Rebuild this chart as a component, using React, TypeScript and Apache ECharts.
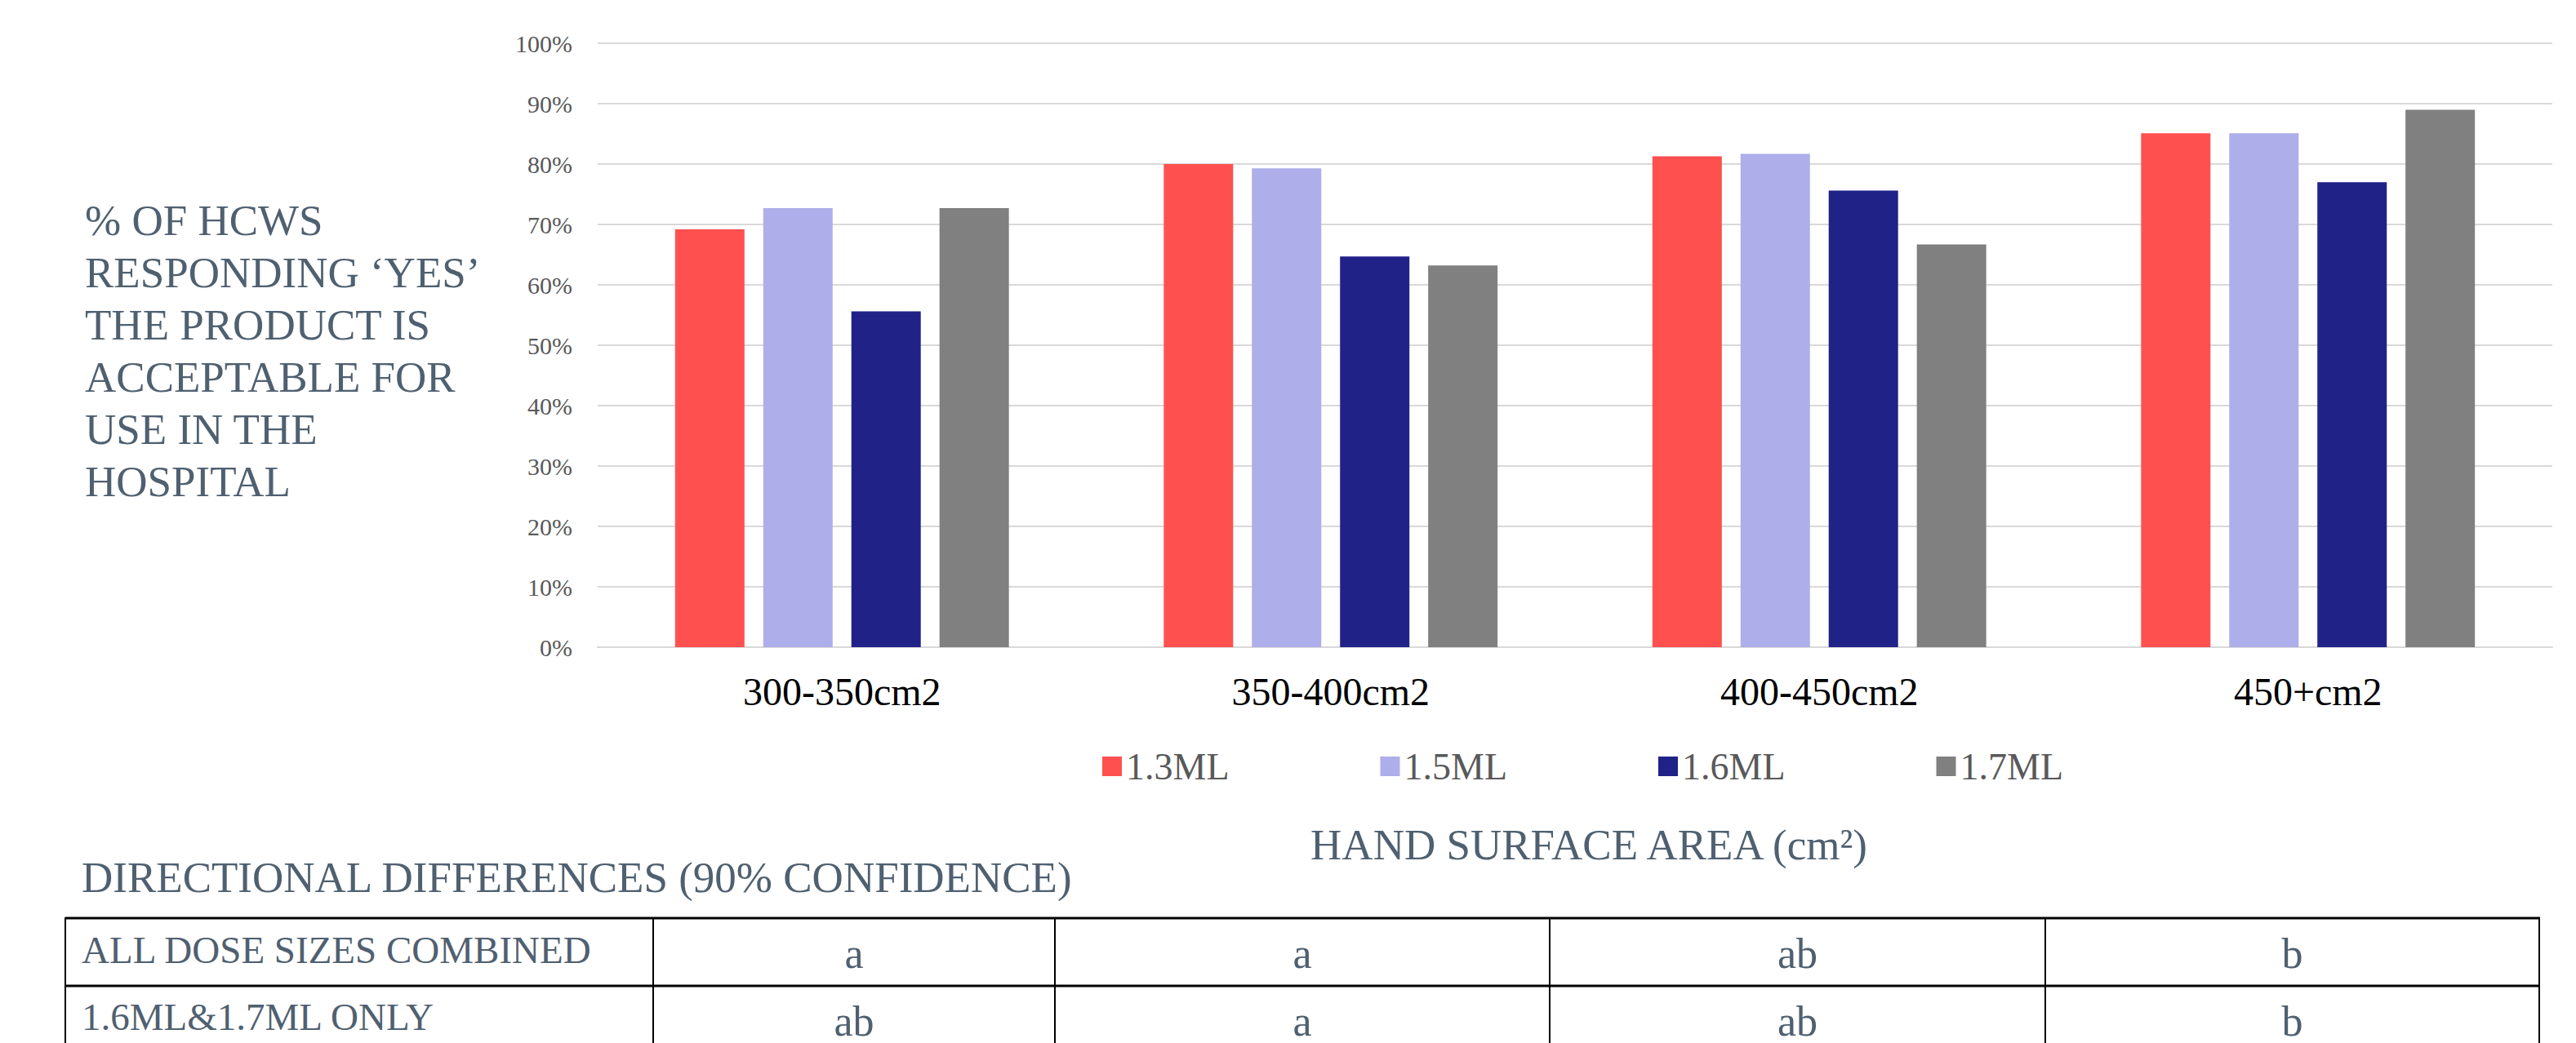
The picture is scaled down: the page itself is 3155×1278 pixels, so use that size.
import React, { useEffect, useRef } from "react";
import * as echarts from "echarts";

const categories = ["300-350cm2", "350-400cm2", "400-450cm2", "450+cm2"];
const seriesNames = ["1.3ML", "1.5ML", "1.6ML", "1.7ML"];
const values13 = [69.2, 80.0, 81.3, 85.1];
const values15 = [72.7, 79.3, 81.7, 85.1];
const values16 = [55.6, 64.7, 75.6, 77.0];
const values17 = [72.7, 63.2, 66.7, 89.0];
const seriesColors = ["#FF5050", "#AEAEEA", "#212288", "#808080"];

const yTitleLines = [
  "% OF HCWS",
  "RESPONDING \u2018YES\u2019",
  "THE PRODUCT IS",
  "ACCEPTABLE FOR",
  "USE IN THE",
  "HOSPITAL",
];
const xTitle = "HAND SURFACE AREA (cm\u00B2)";
const tableTitle = "DIRECTIONAL DIFFERENCES (90% CONFIDENCE)";
const rowLabels = ["ALL DOSE SIZES COMBINED", "1.6ML&1.7ML ONLY"];
const rowAll = ["a", "a", "ab", "b"];
const row1617 = ["ab", "a", "ab", "b"];

const SERIF = '"Liberation Serif", "Times New Roman", serif';
const SLATE = "#4F6070";

export default function App() {
  const ref = useRef<HTMLDivElement>(null);

  useEffect(() => {
    if (!ref.current) return;
    const chart = echarts.init(ref.current, null, { renderer: "svg" });
    const allValues = [values13, values15, values16, values17];

    const colEdges = [80, 800, 1292, 1898, 2505, 3110];
    const rowCenters = [1168, 1251];
    const labelCenters = [1164, 1246];
    const tableRows = [rowAll, row1617];

    const graphics: any[] = [];
    graphics.push({
      type: "text",
      x: 104,
      y: 238,
      style: {
        text: yTitleLines.join("\n"),
        font: `53px ${SERIF}`,
        fill: SLATE,
        align: "left",
        verticalAlign: "top",
        lineHeight: 64,
      },
    });
    graphics.push({
      type: "text",
      x: 1946,
      y: 1035,
      style: {
        text: xTitle,
        font: `53px ${SERIF}`,
        fill: SLATE,
        align: "center",
        verticalAlign: "middle",
      },
    });
    graphics.push({
      type: "text",
      x: 100,
      y: 1075,
      style: {
        text: tableTitle,
        font: `53px ${SERIF}`,
        fill: SLATE,
        align: "left",
        verticalAlign: "middle",
      },
    });
    // table lines
    graphics.push({
      type: "line",
      shape: { x1: 80, y1: 1125, x2: 3111, y2: 1125 },
      style: { stroke: "#000", lineWidth: 3 },
    });
    graphics.push({
      type: "line",
      shape: { x1: 80, y1: 1208, x2: 3111, y2: 1208 },
      style: { stroke: "#000", lineWidth: 3 },
    });
    colEdges.forEach((x) => {
      graphics.push({
        type: "line",
        shape: { x1: x, y1: 1124, x2: x, y2: 1300 },
        style: { stroke: "#000", lineWidth: 2 },
      });
    });
    rowLabels.forEach((lbl, r) => {
      graphics.push({
        type: "text",
        x: 100,
        y: labelCenters[r],
        style: {
          text: lbl,
          font: `47px ${SERIF}`,
          fill: SLATE,
          align: "left",
          verticalAlign: "middle",
        },
      });
      tableRows[r].forEach((v, c) => {
        graphics.push({
          type: "text",
          x: (colEdges[c + 1] + colEdges[c + 2]) / 2,
          y: rowCenters[r],
          style: {
            text: v,
            font: `52px ${SERIF}`,
            fill: SLATE,
            align: "center",
            verticalAlign: "middle",
          },
        });
      });
    });

    chart.setOption({
      animation: false,
      backgroundColor: "#ffffff",
      grid: { left: 732, right: 29, top: 53, height: 740, containLabel: false },
      legend: {
        data: seriesNames,
        left: 1345,
        top: 911,
        itemWidth: 24,
        itemHeight: 24,
        itemGap: 185,
        icon: "rect",
        textStyle: {
          fontFamily: SERIF,
          fontSize: 46,
          color: "#595959",
          lineHeight: 46,
        },
      },
      xAxis: {
        type: "category",
        data: categories,
        axisLine: { lineStyle: { color: "#D9D9D9", width: 2 } },
        axisTick: { show: false },
        axisLabel: {
          fontFamily: SERIF,
          fontSize: 48,
          color: "#000000",
          margin: 30,
        },
      },
      yAxis: {
        type: "value",
        min: 0,
        max: 100,
        interval: 10,
        axisLine: { show: false },
        axisTick: { show: false },
        splitLine: { lineStyle: { color: "#D9D9D9", width: 2 } },
        axisLabel: {
          formatter: "{value}%",
          fontFamily: SERIF,
          fontSize: 30,
          color: "#595959",
          margin: 31,
        },
      },
      series: seriesNames.map((name, i) => ({
        name,
        type: "bar",
        data: allValues[i],
        barWidth: 85,
        barGap: "27%",
        itemStyle: { color: seriesColors[i] },
      })),
      graphic: { elements: graphics },
    });

    return () => chart.dispose();
  }, []);

  return (
    <div
      ref={ref}
      style={{
        position: "fixed",
        left: 0,
        top: 0,
        width: 3155,
        height: 1278,
        background: "#fff",
      }}
    />
  );
}
